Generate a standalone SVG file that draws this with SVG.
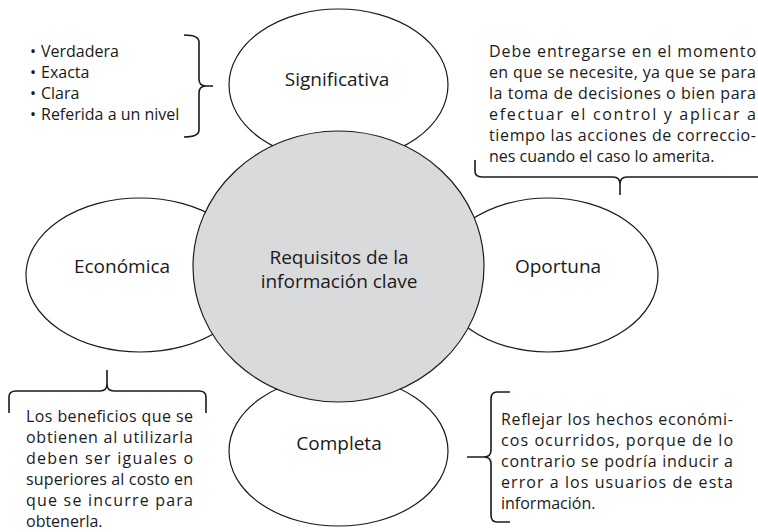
<svg xmlns="http://www.w3.org/2000/svg" width="758" height="532" viewBox="0 0 758 532">
<style>
.bg{fill:#ffffff}
.sat{fill:#ffffff;stroke:#1a1a1a;stroke-width:1.2}
.core{fill:#d9dadc;stroke:#1a1a1a;stroke-width:1.2}
.lbl{font-family:"Open Sans","Liberation Sans",sans-serif;font-size:19px;fill:#1a1a1a;text-anchor:middle}
.txt{font-family:"Open Sans","Liberation Sans",sans-serif;font-size:16px;fill:#1a1a1a}
.brace{fill:none;stroke:#1a1a1a;stroke-width:1.6;stroke-linejoin:round}
</style>
<rect class="bg" x="0" y="0" width="758" height="532"/>
<g id="node-significativa">
<ellipse class="sat" cx="338.5" cy="85" rx="109.5" ry="76"/>
<text class="lbl" x="337" y="86">Significativa</text>
</g>
<g id="node-economica">
<ellipse class="sat" cx="140" cy="275" rx="114" ry="77"/>
<text class="lbl" x="122" y="273">Económica</text>
</g>
<g id="node-oportuna">
<ellipse class="sat" cx="548" cy="275" rx="110" ry="77"/>
<text class="lbl" x="558" y="273">Oportuna</text>
</g>
<g id="node-completa">
<ellipse class="sat" cx="338.5" cy="451" rx="109.5" ry="75"/>
<text class="lbl" x="339" y="450">Completa</text>
</g>
<g id="node-requisitos">
<ellipse class="core" cx="338.5" cy="266.5" rx="145.5" ry="135.5"/>
<text class="lbl" x="339" y="264">Requisitos de la</text>
<text class="lbl" x="339" y="288">información clave</text>
</g>
<g id="connectors">
<path class="brace" d="M184,35 Q199,35 199,42 L199,79 Q199,86 206,86 L213,86 M206,86 Q199,86 199,93 L199,130 Q199,137 184,137"/>
<path class="brace" d="M475,160 L475,171 Q475,177 482,177 L613,177 Q620,177 620,184 L620,195 M620,184 Q620,177 627,177 L770,177"/>
<path class="brace" d="M9,413 L9,397 Q9,391 16,391 L100,391 Q107,391 107,384 L107,370 M107,384 Q107,391 114,391 L199,391 Q206,391 206,397 L206,413"/>
<path class="brace" d="M510,392 L497,392 Q491,392 491,399 L491,450 Q491,457 484,457 L467,457 M484,457 Q491,457 491,464 L491,515 Q491,522 497,522 L510,522"/>
</g>
<g id="note-significativa">
<text class="txt" y="57"><tspan x="30">•</tspan><tspan x="41">Verdadera</tspan></text>
<text class="txt" y="78"><tspan x="30">•</tspan><tspan x="41">Exacta</tspan></text>
<text class="txt" y="99"><tspan x="30">•</tspan><tspan x="41">Clara</tspan></text>
<text class="txt" y="120"><tspan x="30">•</tspan><tspan x="41">Referida a un nivel</tspan></text>
</g>
<g id="note-oportuna">
<text class="txt" x="489" y="57" textLength="267" lengthAdjust="spacing">Debe entregarse en el momento</text>
<text class="txt" x="489" y="78" textLength="267" lengthAdjust="spacing">en que se necesite, ya que se para</text>
<text class="txt" x="489" y="99" textLength="267" lengthAdjust="spacing">la toma de decisiones o bien para</text>
<text class="txt" x="489" y="120" textLength="267" lengthAdjust="spacing">efectuar el control y aplicar a</text>
<text class="txt" x="489" y="141" textLength="267" lengthAdjust="spacing">tiempo las acciones de correccio-</text>
<text class="txt" x="489" y="162">nes cuando el caso lo amerita.</text>
</g>
<g id="note-economica">
<text class="txt" x="26" y="422" textLength="167" lengthAdjust="spacing">Los beneficios que se</text>
<text class="txt" x="26" y="443" textLength="167" lengthAdjust="spacing">obtienen al utilizarla</text>
<text class="txt" x="26" y="464" textLength="167" lengthAdjust="spacing">deben ser iguales o</text>
<text class="txt" x="26" y="485" textLength="167" lengthAdjust="spacing">superiores al costo en</text>
<text class="txt" x="26" y="506" textLength="167" lengthAdjust="spacing">que se incurre para</text>
<text class="txt" x="26" y="527">obtenerla.</text>
</g>
<g id="note-completa">
<text class="txt" x="501" y="425" textLength="232" lengthAdjust="spacing">Reflejar los hechos económi-</text>
<text class="txt" x="501" y="446" textLength="232" lengthAdjust="spacing">cos ocurridos, porque de lo</text>
<text class="txt" x="501" y="467" textLength="232" lengthAdjust="spacing">contrario se podría inducir a</text>
<text class="txt" x="501" y="488" textLength="232" lengthAdjust="spacing">error a los usuarios de esta</text>
<text class="txt" x="501" y="509">información.</text>
</g>
</svg>
